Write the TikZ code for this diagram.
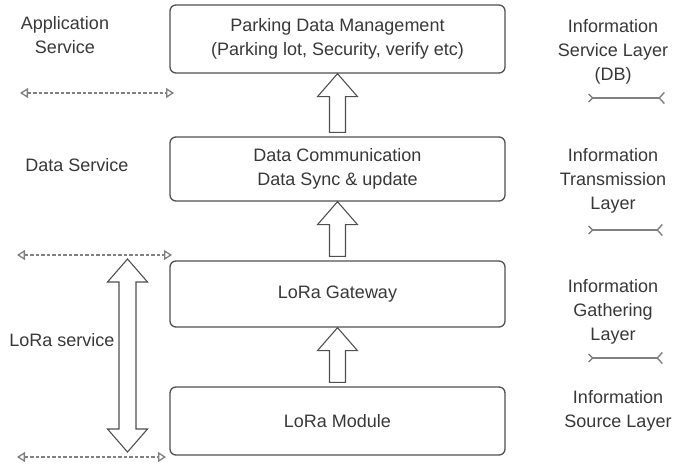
\documentclass[tikz,border=0pt]{standalone}
\usepackage{fontspec}
\setmainfont{Liberation Sans}
\usetikzlibrary{arrows.meta,calc,positioning}

\definecolor{txtgray}{HTML}{383838}
\definecolor{linegray}{HTML}{505050}

\tikzset{
  layerbox/.style={draw=linegray, line width=1.3pt, rounded corners=6pt,
    minimum width=335pt, minimum height=66pt, align=center, text=txtgray,
    font=\fontsize{18}{24}\selectfont},
  sidelabel/.style={align=center, text=txtgray, font=\fontsize{18}{24}\selectfont},
  fatarr/.style={draw=linegray, line width=1.1pt, fill=white, line join=miter},
  servicearr/.style={draw=gray, dash pattern=on 3.5pt off 2pt, line width=1.3pt,
    {Triangle[open,length=8pt,width=10pt]}-{Triangle[open,length=8pt,width=10pt]}},
  layerline/.style={draw=gray, line width=1.4pt,
    {Straight Barb[reversed,length=4pt,width=8pt]}-{Straight Barb[reversed,length=5pt,width=11pt]}}
}

% block arrow from lower node (#1) up to upper node (#2)
\newcommand{\blockup}[2]{%
  \draw[fatarr] let \p1=(#1.north), \p2=(#2.south) in
    (\x1-8pt,\y1+4pt) -- (\x1-8pt,\y2-23pt) -- (\x1-20pt,\y2-23pt) -- (\x1,\y2)
    -- (\x1+20pt,\y2-23pt) -- (\x1+8pt,\y2-23pt) -- (\x1+8pt,\y1+4pt) -- cycle;}

\begin{document}
\begin{tikzpicture}[x=1pt, y=-1pt]
  \useasboundingbox (0,0) rectangle (679,470);

  % layers
  \node[layerbox, minimum height=68pt] (mgmt) at (337.5,39) {Parking Data Management\\(Parking lot, Security, verify etc)};
  \node[layerbox, minimum height=64pt] (comm) at (337.5,169) {Data Communication\\Data Sync \& update};
  \node[layerbox] (gateway) at (337.5,294) {LoRa Gateway};
  \node[layerbox, minimum height=68pt] (module) at (337.5,421) {LoRa Module};

  \blockup{comm}{mgmt}
  \blockup{gateway}{comm}
  \blockup{module}{gateway}

  % services on the left
  \node[sidelabel] (appserv) at (65,35) {Application\\Service};
  \node[sidelabel] (dataserv) at (77,165) {Data Service};
  \node[sidelabel] (loraserv) at (62,340) {LoRa service};

  \coordinate (s1l) at (20,93);  \coordinate (s1r) at (174,93);
  \coordinate (s2l) at (17,255); \coordinate (s2r) at (172,255);
  \coordinate (s3l) at (17,457); \coordinate (s3r) at (166,457);
  \draw[servicearr] (s1l) -- (s1r);
  \draw[servicearr] (s2l) -- (s2r);
  \draw[servicearr] (s3l) -- (s3r);

  % LoRa span
  \coordinate (spantop) at (127.5,259);
  \coordinate (spanbot) at (127.5,452);
  \draw[fatarr] let \p1=(spantop), \p2=(spanbot) in
    (\x1,\y1) -- (\x1+20pt,\y1-23pt) -- (\x1+8.5pt,\y1-23pt) -- (\x1+8.5pt,\y2+23pt)
    -- (\x1+20pt,\y2+23pt) -- (\x2,\y2) -- (\x1-20pt,\y2+23pt) -- (\x1-8.5pt,\y2+23pt)
    -- (\x1-8.5pt,\y1-23pt) -- (\x1-20pt,\y1-23pt) -- cycle;

  % layers on the right
  \node[sidelabel] (servlayer) at (613,52) {Information\\Service Layer\\(DB)};
  \node[sidelabel] (translayer) at (613,181) {Information\\Transmission\\Layer};
  \node[sidelabel] (gathlayer) at (613,312) {Information\\Gathering\\Layer};
  \node[sidelabel] (srclayer) at (618,411) {Information\\Source Layer};

  \coordinate (l1l) at (588,98);  \coordinate (l1r) at (665,98);
  \coordinate (l2l) at (588,230); \coordinate (l2r) at (663,230);
  \coordinate (l3l) at (588,358); \coordinate (l3r) at (663,358);
  \draw[layerline] (l1l) -- (l1r);
  \draw[layerline] (l2l) -- (l2r);
  \draw[layerline] (l3l) -- (l3r);
\end{tikzpicture}
\end{document}
